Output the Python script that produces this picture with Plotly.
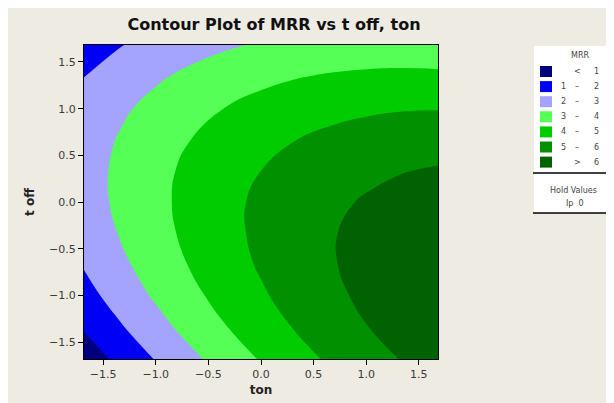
import plotly.graph_objects as go

# grid coordinates (coded units) for ton (x) and t off (y)
ton = [-1.682, -1.346, -1.009, -0.673, -0.336, 0.0, 0.336, 0.673, 1.009, 1.346, 1.682]
t_off = [-1.682, -1.346, -1.009, -0.673, -0.336, 0.0, 0.336, 0.673, 1.009, 1.346, 1.682]

# MRR values (rows: t off, columns: ton)
mrr = [
    [0.41, 1.24, 2.03, 2.76, 3.44, 4.07, 4.64, 5.16, 5.63, 6.05, 6.41],
    [1.09, 1.88, 2.63, 3.32, 3.96, 4.54, 5.07, 5.55, 5.98, 6.35, 6.67],
    [1.64, 2.40, 3.10, 3.75, 4.34, 4.88, 5.37, 5.81, 6.19, 6.53, 6.80],
    [2.07, 2.78, 3.44, 4.05, 4.60, 5.10, 5.55, 5.94, 6.29, 6.58, 6.81],
    [2.37, 3.04, 3.66, 4.22, 4.74, 5.19, 5.60, 5.95, 6.25, 6.50, 6.69],
    [2.55, 3.18, 3.75, 4.27, 4.74, 5.19, 5.52, 5.83, 6.09, 6.30, 6.45],
    [2.60, 3.18, 3.72, 4.20, 4.62, 5.00, 5.32, 5.59, 5.80, 5.97, 6.08],
    [2.52, 3.06, 3.55, 3.99, 4.38, 4.71, 4.99, 5.22, 5.39, 5.51, 5.58],
    [2.32, 2.82, 3.27, 3.66, 4.01, 4.30, 4.53, 4.72, 4.85, 4.93, 4.95],
    [1.99, 2.45, 2.85, 3.21, 3.51, 3.76, 3.95, 4.09, 4.18, 4.22, 4.20],
    [1.53, 1.95, 2.31, 2.62, 2.88, 3.09, 3.24, 3.34, 3.39, 3.39, 3.33],
]

levels = [1, 2, 3, 4, 5, 6]
band_low = ["", "1", "2", "3", "4", "5", ""]
band_op = ["<", "–", "–", "–", "–", "–", ">"]
band_high = ["1", "2", "3", "4", "5", "6", "6"]
band_colors = ["#00007F", "#0000F5", "#A4A4FF", "#55FF55", "#00CC00", "#009000", "#006200"]

tick_vals = [-1.5, -1.0, -0.5, 0.0, 0.5, 1.0, 1.5]
hold_title = "Hold Values"
hold_line = "Ip  0"

# page body adds an 8px offset; figure is sized to the remaining window
OFF = 8
W, H = 614 - OFF, 403 - OFF
L, R, T, B = 84 - OFF, 614 - 438, 45 - OFF, 403 - 359
PW, PH = W - L - R, H - T - B


def px(X):
    """screen x (window pixels) -> paper x"""
    return (X - OFF - L) / PW


def py(Y):
    """screen y (window pixels) -> paper y"""
    return (H - B - (Y - OFF)) / PH


n = len(band_colors)
colorscale = [[i / (n - 1), c] for i, c in enumerate(band_colors)]

fig = go.Figure()
fig.add_trace(go.Contour(
    x=ton, y=t_off, z=mrr,
    contours=dict(start=levels[0], end=levels[-1], size=levels[1] - levels[0], coloring="fill"),
    colorscale=colorscale, showscale=False, line=dict(width=0, smoothing=1.3),
    hoverinfo="skip", showlegend=False,
))

bg = "#EEEBE2"
font_fam = "DejaVu Sans, Verdana, sans-serif"
fig.update_layout(
    width=W, height=H,
    margin=dict(l=L, r=R, t=T, b=B, autoexpand=False),
    paper_bgcolor=bg, plot_bgcolor=bg,
    font=dict(family=font_fam, color="#222222"),
    showlegend=False,
    title=dict(text="<b>Contour Plot of MRR vs t off, ton</b>", x=(274 - OFF) / W, xanchor="center",
               y=1 - (24 - OFF) / H, yanchor="middle", font=dict(size=16, color="#111111")),
    xaxis=dict(range=[ton[0], ton[-1]], tickvals=tick_vals, tickformat=".1f",
               ticks="outside", ticklen=5, tickcolor="black", showline=True, linecolor="black",
               linewidth=1, mirror=True, showgrid=False, zeroline=False, automargin=False,
               tickfont=dict(size=11, color="#3a3a3a"),
               title=dict(text="<b>ton</b>", font=dict(size=12, color="#222222"), standoff=5)),
    yaxis=dict(range=[t_off[0], t_off[-1]], tickvals=tick_vals, tickformat=".1f",
               ticks="outside", ticklen=5, tickcolor="black", showline=True, linecolor="black",
               linewidth=1, mirror=True, showgrid=False, zeroline=False, automargin=False,
               tickfont=dict(size=11, color="#3a3a3a"),
               title=dict(text="<b>t off</b>", font=dict(size=12, color="#222222"), standoff=11)),
)

# legend panel (key for the filled contour bands)
lx0, lx1 = 534, 612
fig.add_shape(type="rect", xref="paper", yref="paper", x0=px(lx0), x1=px(lx1), y0=py(213), y1=py(46),
              fillcolor="white", line=dict(width=0))
for yy in (173, 213):
    fig.add_shape(type="line", xref="paper", yref="paper", x0=px(lx0 - 1), x1=px(lx1), y0=py(yy), y1=py(yy),
                  line=dict(color="black", width=1.5))
fig.add_annotation(text="MRR", xref="paper", yref="paper", x=px(580), y=py(55), showarrow=False,
                   xanchor="center", yanchor="middle", font=dict(size=8, color="#444444"))
for i, col in enumerate(band_colors):
    yc = 71.5 + 15.1 * i
    fig.add_shape(type="rect", xref="paper", yref="paper", x0=px(540), x1=px(552),
                  y0=py(yc + 5.5), y1=py(yc - 5.5), fillcolor=col, line=dict(width=0))
    for txt, xc in ((band_low[i], 563), (band_op[i], 577), (band_high[i], 596)):
        if txt:
            fig.add_annotation(text=txt, xref="paper", yref="paper", x=px(xc), y=py(yc), showarrow=False,
                               xanchor="center", yanchor="middle", font=dict(size=8, color="#444444"))
fig.add_annotation(text=hold_title, xref="paper", yref="paper", x=px(573), y=py(190), showarrow=False,
                   xanchor="center", yanchor="middle", font=dict(size=8, color="#444444"))
fig.add_annotation(text=hold_line, xref="paper", yref="paper", x=px(575), y=py(203), showarrow=False,
                   xanchor="center", yanchor="middle", font=dict(size=8, color="#444444"))

fig.write_html("out.html")
